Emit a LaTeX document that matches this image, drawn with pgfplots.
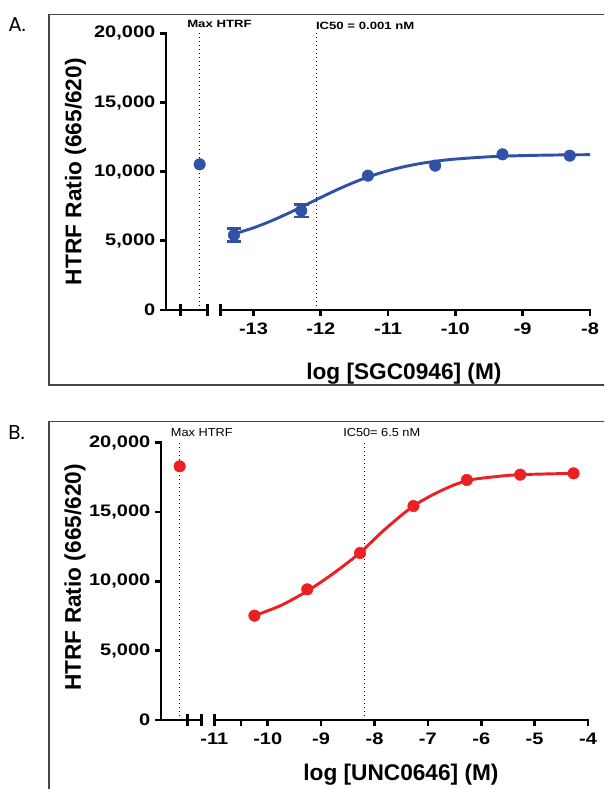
\documentclass[border=0pt]{standalone}
\usepackage{pgfplots}
\pgfplotsset{compat=1.18}
\usepackage{fontspec}
\setmainfont{Liberation Sans}
\newfontfamily\tickfont{Liberation Sans}[FakeStretch=1.2]
\newfontfamily\annfont{Liberation Sans}[FakeStretch=1.25]
\newfontfamily\annfontb{Liberation Sans}[FakeStretch=1.1]
\newfontfamily\panelfont{Poppins}

\definecolor{ablue}{RGB}{48,82,166}
\definecolor{bred}{RGB}{236,32,36}

\tikzset{
  dots/.style={line width=0.7pt, black, dash pattern=on 0.7pt off 2.3pt},
}
\pgfplotsset{
  htrf/.style={
    scale only axis, clip=false,
    ymin=0, ymax=20000,
    axis x line*=bottom, axis y line*=left,
    separate axis lines,
    x axis line style={draw=none},
    y axis line style={draw=none},
    ytick={0,5000,10000,15000,20000},
    scaled y ticks=false,
    tick align=outside, major tick length=4.5pt,
    tick style={line width=2pt, black},
    minor tick num=0,
    ticklabel style={font=\tickfont\bfseries\fontsize{12.5}{14}\selectfont},
    xticklabel style={yshift=-1.5pt},
    /pgf/number format/.cd, 1000 sep={,}, assume math mode=true,
    /pgfplots/.cd,
    label style={font=\bfseries\fontsize{17}{20}\selectfont},
    ylabel={HTRF Ratio (665/620)},
  },
  axseg/.style={black, line width=2.2pt, forget plot, mark=none},
}

\begin{document}
\begin{tikzpicture}
\path[use as bounding box] (0,0) rectangle (453pt,591.75pt);
\clip (0,0) rectangle (453pt,591.75pt);

% panel frames
\draw[line width=0.9pt, gray!55!black] (36.75pt,303pt) rectangle (470pt,581pt);
\draw[line width=0.9pt, gray!55!black] (36.75pt,-10pt) rectangle (470pt,275.5pt);
\node[font=\panelfont\fontsize{15}{18}\selectfont, anchor=base west, inner sep=0] at (6pt,567.75pt) {A.};
\node[font=\panelfont\fontsize{15}{18}\selectfont, anchor=base west, inner sep=0] at (6pt,261.75pt) {B.};

% ---- A: SGC0946
\begin{axis}[htrf,
  at={(124.5pt,359.25pt)}, anchor=south west,
  width=318pt, height=207.5pt,
  xmin=-14.3, xmax=-8,
  xtick={-13,-12,-11,-10,-9,-8},
  xlabel={log [SGC0946] (M)},
  xlabel style={at={(axis description cs:0.561,0)}, anchor=base, yshift=-52.5pt},
  ylabel style={at={(axis description cs:0,0.5)}, anchor=base, yshift=63.4pt},
]
\draw[dots] (axis cs:-13.80,0) -- (axis cs:-13.80,20000);
\draw[dots] (axis cs:-12.07,0) -- (axis cs:-12.07,20000);
\coordinate (A00) at (axis cs:-14.3,0);
\coordinate (A01) at (axis cs:-14.3,20000);
\coordinate (A1) at (axis cs:-13.68,0);
\coordinate (A2) at (axis cs:-13.49,0);
\coordinate (A3) at (axis cs:-8,0);
\addplot[axseg] coordinates {(-14.09,-440) (-14.09,440)};
\addplot[axseg] coordinates {(-13.68,-440) (-13.68,440)};
\addplot[axseg] coordinates {(-13.49,-440) (-13.49,440)};

\addplot[ablue, line width=2.2pt, smooth] coordinates {
  (-13.3,5478) (-13.0,5941) (-12.75,6412) (-12.5,6951) (-12.25,7536)
  (-12.0,8134) (-11.75,8712) (-11.5,9238) (-11.25,9694) (-11.0,10071)
  (-10.75,10372) (-10.5,10605) (-10.25,10781) (-10.0,10911) (-9.5,11076)
  (-9.0,11162) (-8.5,11205) (-8.0,11228)
};
\addplot[ablue, only marks, mark=*, mark size=4.3pt,
  error bars/.cd, y dir=both, y explicit,
  error bar style={line width=2pt},
  error mark options={rotate=90, mark size=5.5pt, line width=2pt}]
  coordinates {(-13.29,5420) +- (0,480) (-12.29,7180) +- (0,450)};
\addplot[ablue, only marks, mark=*, mark size=4.3pt] coordinates {
  (-13.80,10530) (-11.30,9711) (-10.30,10434) (-9.30,11253) (-8.30,11157)
};
\end{axis}
% axis lines as filled bars
\fill[black] ([xshift=-1.05pt,yshift=-1.1pt]A00) rectangle ([xshift=1.05pt,yshift=1pt]A01);
\fill[black] ([xshift=-1.05pt,yshift=-1.1pt]A00) rectangle ([yshift=1.1pt]A1);
\fill[black] ([yshift=-1.1pt]A2) rectangle ([xshift=1pt,yshift=1.1pt]A3);
\node[font=\annfont\bfseries\fontsize{7.9}{9}\selectfont, anchor=base west, inner sep=0] at (140.25pt,570.75pt) {Max HTRF};
\node[font=\annfont\bfseries\fontsize{7.9}{9}\selectfont, anchor=base west, inner sep=0] at (236.8pt,569.8pt) {IC50 = 0.001 nM};

% ---- B: UNC0646
\begin{axis}[htrf,
  at={(120.75pt,51.75pt)}, anchor=south west,
  width=320.25pt, height=208pt,
  xmin=-12, xmax=-4,
  xtick={-11,-10,-9,-8,-7,-6,-5,-4},
  extra x ticks={-10.5}, extra x tick labels={},
  xlabel={log [UNC0646] (M)},
  xlabel style={at={(axis description cs:0.562,0)}, anchor=base, yshift=-45pt},
  ylabel style={at={(axis description cs:0,0.5)}, anchor=base, yshift=60pt, xshift=3pt},
]
\draw[dots] (axis cs:-11.65,0) -- (axis cs:-11.65,20000);
\draw[dots] (axis cs:-8.19,0) -- (axis cs:-8.19,20000);
\coordinate (B00) at (axis cs:-12,0);
\coordinate (B01) at (axis cs:-12,20000);
\coordinate (B1) at (axis cs:-11.24,0);
\coordinate (B2) at (axis cs:-11.0,0);
\coordinate (B3) at (axis cs:-4,0);
\addplot[axseg] coordinates {(-11.51,-440) (-11.51,440)};
\addplot[axseg] coordinates {(-11.24,-440) (-11.24,440)};
\addplot[axseg] coordinates {(-11.0,-440) (-11.0,440)};

\addplot[bred, line width=2.2pt, smooth] coordinates {
  (-10.25,7524) (-9.76,8250) (-9.26,9300) (-8.76,10600) (-8.27,12067)
  (-7.82,13700) (-7.27,15433) (-6.74,16560) (-6.27,17260) (-5.73,17550)
  (-5.27,17692) (-4.27,17788)
};
\addplot[bred, only marks, mark=*, mark size=4.3pt] coordinates {
  (-11.65,18293) (-10.25,7524) (-9.26,9423) (-8.27,12043) (-7.27,15433)
  (-6.27,17308) (-5.27,17692) (-4.27,17788)
};
\end{axis}
\fill[black] ([xshift=-1.05pt,yshift=-1.1pt]B00) rectangle ([xshift=1.05pt,yshift=1pt]B01);
\fill[black] ([xshift=-1.05pt,yshift=-1.1pt]B00) rectangle ([yshift=1.1pt]B1);
\fill[black] ([yshift=-1.1pt]B2) rectangle ([xshift=1pt,yshift=1.1pt]B3);
\node[font=\annfontb\fontsize{8.7}{10}\selectfont, anchor=base west, inner sep=0] at (128pt,264.2pt) {Max HTRF};
\node[font=\annfontb\fontsize{8.7}{10}\selectfont, anchor=base west, inner sep=0] at (257.25pt,264.2pt) {IC50= 6.5 nM};
\end{tikzpicture}
\end{document}
